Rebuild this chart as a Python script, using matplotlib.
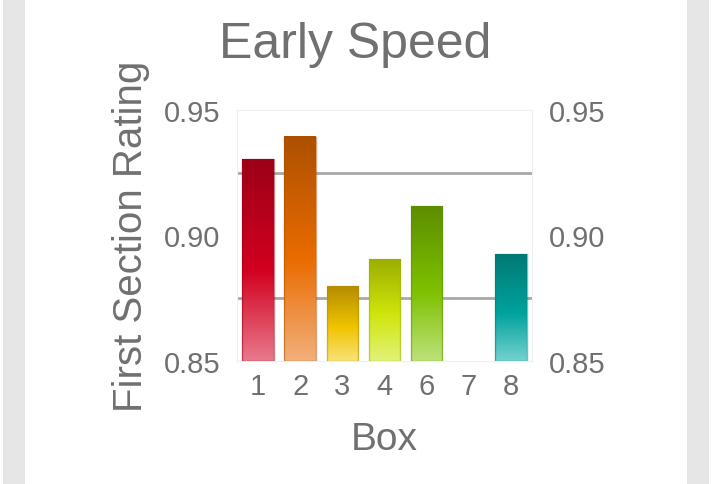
import numpy as np
import matplotlib.pyplot as plt
from matplotlib.colors import LinearSegmentedColormap
from matplotlib.patches import Rectangle

plt.rcParams['font.family'] = ['Liberation Sans', 'DejaVu Sans']

boxes = ['1', '2', '3', '4', '6', '7', '8']
ratings = [0.9304, 0.9394, 0.8799, 0.8906, 0.9118, np.nan, 0.8924]
# top, middle, bottom colour of each bar
top_cols = ['#9c0018', '#ac5000', '#b48c00', '#9cae00', '#5c8e00', '#ffffff', '#007a76']
mid_cols = ['#d2001f', '#ea6c00', '#f0c400', '#d0e60c', '#7ec000', '#ffffff', '#00a29c']
bot_cols = ['#e87a8c', '#f2b07c', '#f8e278', '#e2f27a', '#bce27a', '#ffffff', '#74d2d0']

txt = '#707070'

fig = plt.figure(figsize=(7.11, 4.85), dpi=100)
# grey side strips of the card
fig.patches.append(Rectangle((3/711, 0), 22/711, 1, transform=fig.transFigure,
                             facecolor='#e6e6e6', edgecolor='none'))
fig.patches.append(Rectangle((687/711, 0), 22/711, 1, transform=fig.transFigure,
                             facecolor='#e6e6e6', edgecolor='none'))

ax = fig.add_axes([237/711, 1 - 361.7/485, (532 - 237)/711, (361.7 - 111)/485])
x = np.arange(len(boxes))
bars = ax.bar(x, ratings, width=0.75, bottom=0, color='none', zorder=3)

grad = np.linspace(0, 1, 256).reshape(-1, 1)
for b, t, m, bo, v in zip(bars, top_cols, mid_cols, bot_cols, ratings):
    if np.isnan(v):
        continue
    cmap = LinearSegmentedColormap.from_list('g', [(0, bo), (0.45, m), (1, t)])
    x0 = b.get_x()
    w = b.get_width()
    im = ax.imshow(grad, cmap=cmap, aspect='auto', origin='lower',
                   extent=[x0, x0 + w, 0.85, v], zorder=3)
    ax.add_patch(Rectangle((x0, 0.85), w, v - 0.85, facecolor='none',
                           edgecolor=t, linewidth=1, alpha=0.5, zorder=4))

ax.set_xlim(-0.5, len(boxes) - 0.5)
ax.set_ylim(0.85, 0.95)
ax.set_yticks([0.85, 0.90, 0.95])
ax.set_yticklabels(['0.85', '0.90', '0.95'])
ax.set_xticks(x)
ax.set_xticklabels(boxes)
for yv in [0.875, 0.925]:
    ax.axhline(yv, color='#a8a8a8', linewidth=2, zorder=2)

for s in ax.spines.values():
    s.set_color('#f0f0f0')
ax.tick_params(length=0, labelsize=21, labelcolor=txt, pad=8)
ax.tick_params(axis='y', pad=12)

ax2 = ax.twinx()
ax2.set_ylim(0.85, 0.95)
ax2.set_yticks([0.85, 0.90, 0.95])
ax2.set_yticklabels(['0.85', '0.90', '0.95'])
ax2.tick_params(length=0, labelsize=21, labelcolor=txt, pad=12)
for s in ax2.spines.values():
    s.set_visible(False)

fig.text(0.5, 1 - 58/485, 'Early Speed', fontsize=36, color=txt,
         ha='center', va='baseline')
ax.set_xlabel('Box', fontsize=28, color=txt, labelpad=15)
ax.set_ylabel('First Section Rating', fontsize=29, color=txt, labelpad=10)

fig.savefig('out.png', dpi=100)
